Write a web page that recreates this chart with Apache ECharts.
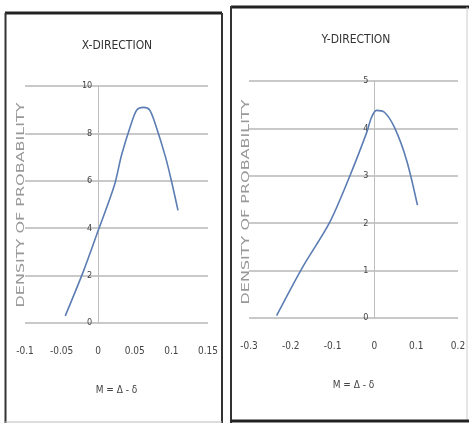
<!DOCTYPE html>
<html>
<head>
<meta charset="utf-8">
<script src="https://cdn.jsdelivr.net/npm/echarts@6/dist/echarts.min.js"></script>
<style>
html,body{margin:0;padding:0;background:#fff;}
#main{width:469px;height:423px;}
</style>
</head>
<body>
<div id="main"></div>
<script>
// X-direction curve (M, density)
var xDirM = [-0.045, -0.02, 0, 0.022, 0.032, 0.045, 0.053, 0.062, 0.07, 0.078, 0.092, 0.1, 0.109];
var xDirDensity = [0.3, 2.2, 3.9, 5.8, 7.1, 8.4, 9.0, 9.1, 9.0, 8.4, 7.0, 6.0, 4.75];
// Y-direction curve
var yDirM = [-0.234, -0.172, -0.108, -0.06, -0.019, -0.007, 0.005, 0.024, 0.048, 0.077, 0.103];
var yDirDensity = [0.05, 1.07, 2.0, 2.97, 3.9, 4.23, 4.38, 4.34, 4.02, 3.33, 2.38];

var titles = ['X-DIRECTION', 'Y-DIRECTION'];
var yName = 'DENSITY OF PROBABILITY';
var xName = 'M = Δ - δ';

function pairs(xs, ys){
	var out = [];
	for(var i = 0; i < xs.length; i++){
		out.push([xs[i], ys[i]]);
	}
	return out;
}

var narrow = 'DejaVu Sans Condensed, Liberation Sans Narrow, sans-serif';
var lineColor = '#5b7db3';
var gridColor = '#c9c9c9';

function xAxisCfg(idx, min, max, step){
	return {
		type:'value',
		gridIndex:idx,
		min:min,
		max:max,
		interval:step,
		axisLine:{show:false},
		axisTick:{show:false},
		splitLine:{show:false},
		axisLabel:{margin:23, fontSize:10, color:'#444', fontFamily:narrow},
		name:xName,
		nameLocation:'middle',
		nameGap:62,
		nameTextStyle:{fontSize:10, color:'#444', fontFamily:narrow}
	};
}
// the vertical axis sits on M = 0, so it is pushed right with offset
function yAxisCfg(idx, max, step, offset){
	return {
		type:'value',
		gridIndex:idx,
		min:0,
		max:max,
		interval:step,
		offset:offset,
		axisLine:{show:true, onZero:false, lineStyle:{color:'#bdbdbd', width:1}},
		axisTick:{show:false},
		splitLine:{show:true, lineStyle:{color:gridColor, width:2}},
		axisLabel:{margin:6, fontSize:9, color:'#444', fontFamily:narrow}
	};
}

var option = {
	backgroundColor:'#fff',
	animation:false,
	title:[
		{text:titles[0], left:112, top:35, textAlign:'center',
		 textStyle:{fontSize:12, fontWeight:'normal', color:'#333', fontFamily:narrow}},
		{text:titles[1], left:351, top:29, textAlign:'center',
		 textStyle:{fontSize:12, fontWeight:'normal', color:'#333', fontFamily:narrow}}
	],
	grid:[
		{left:25, top:86, width:183, height:237},
		{left:249, top:81, width:209, height:237}
	],
	xAxis:[
		xAxisCfg(0, -0.1, 0.15, 0.05),
		xAxisCfg(1, -0.3, 0.2, 0.1)
	],
	yAxis:[
		yAxisCfg(0, 10, 2, -73.2),
		yAxisCfg(1, 5, 1, -125.4)
	],
	series:[
		{
			type:'line',
			xAxisIndex:0,
			yAxisIndex:0,
			data:pairs(xDirM, xDirDensity),
			smooth:0.3,
			showSymbol:false,
			lineStyle:{color:lineColor, width:1.6}
		},
		{
			type:'line',
			xAxisIndex:1,
			yAxisIndex:1,
			data:pairs(yDirM, yDirDensity),
			smooth:0.3,
			showSymbol:false,
			lineStyle:{color:lineColor, width:1.6}
		}
	],
	graphic:[
		// panel frames
		{type:'line', shape:{x1:5, y1:13, x2:222, y2:13}, style:{stroke:'#222', lineWidth:3}},
		{type:'line', shape:{x1:5.5, y1:13, x2:5.5, y2:423}, style:{stroke:'#333', lineWidth:2}},
		{type:'line', shape:{x1:222, y1:13, x2:222, y2:423}, style:{stroke:'#333', lineWidth:2}},
		{type:'line', shape:{x1:5, y1:422, x2:222, y2:422}, style:{stroke:'#bbb', lineWidth:1}},
		{type:'line', shape:{x1:231, y1:7, x2:469, y2:7}, style:{stroke:'#222', lineWidth:3}},
		{type:'line', shape:{x1:231, y1:6, x2:231, y2:423}, style:{stroke:'#333', lineWidth:2}},
		{type:'line', shape:{x1:467, y1:7, x2:467, y2:421}, style:{stroke:'#ccc', lineWidth:1}},
		{type:'line', shape:{x1:231, y1:421, x2:469, y2:421}, style:{stroke:'#222', lineWidth:3}},
		// vertical axis titles, stretched along their length like the source
		{type:'text', x:21, y:205, rotation:Math.PI/2, scaleX:1.6,
		 style:{text:yName, fontSize:10, fill:'#999', fontFamily:'DejaVu Sans, sans-serif', align:'center', verticalAlign:'middle'}},
		{type:'text', x:246, y:202, rotation:Math.PI/2, scaleX:1.6,
		 style:{text:yName, fontSize:10, fill:'#999', fontFamily:'DejaVu Sans, sans-serif', align:'center', verticalAlign:'middle'}}
	]
};

var myChart = echarts.init(document.getElementById('main'));
myChart.setOption(option);
</script>
</body>
</html>
